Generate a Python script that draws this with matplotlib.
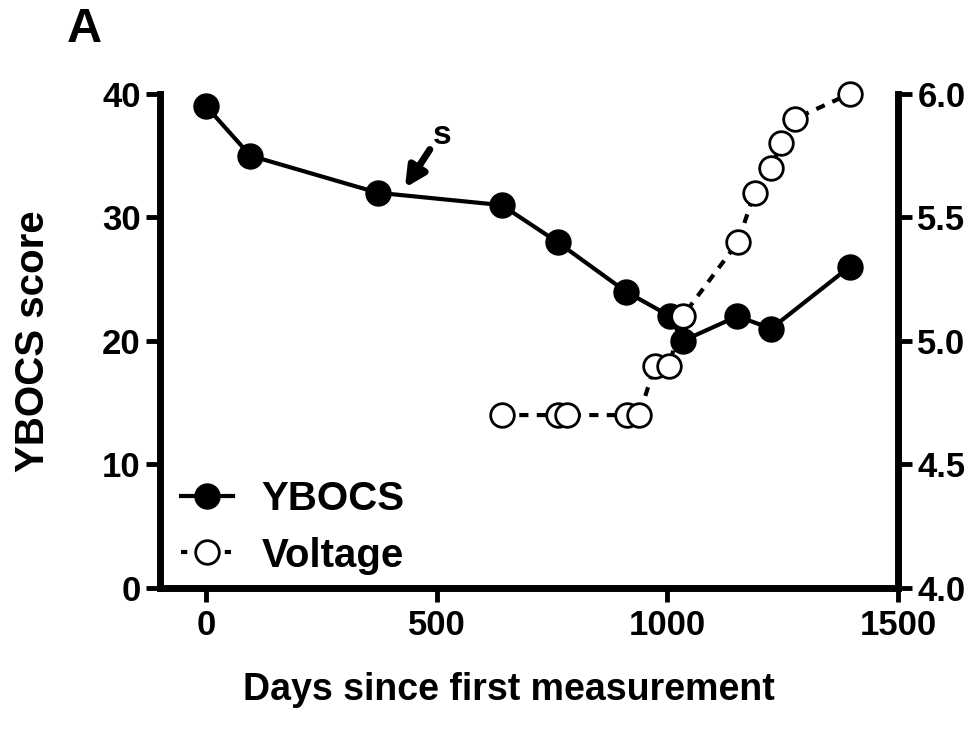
import matplotlib
matplotlib.use('Agg')
import matplotlib.pyplot as plt
from matplotlib.lines import Line2D

plt.rcParams['font.family'] = ['Liberation Sans', 'DejaVu Sans']
plt.rcParams['font.weight'] = 'bold'
plt.rcParams['axes.labelweight'] = 'bold'

# YBOCS score over time
ybocs_days = [0, 96, 372, 641, 762, 910, 1006, 1033, 1152, 1225, 1395]
ybocs_score = [39, 35, 32, 31, 28, 24, 22, 20, 22, 21, 26]

# stimulation voltage over time
volt_days = [641, 762, 782, 912, 939, 973, 1004, 1033, 1153, 1189, 1225, 1246, 1277, 1395]
volt_value = [4.7, 4.7, 4.7, 4.7, 4.7, 4.9, 4.9, 5.1, 5.4, 5.6, 5.7, 5.8, 5.9, 6.0]

x_ticks = [0, 500, 1000, 1500]
y_ticks = [0, 10, 20, 30, 40]
v_ticks = [4.0, 4.5, 5.0, 5.5, 6.0]

# arrow marking the "s" event
arrow_tail = (485, 35.5)
arrow_head = (431, 32.4)
arrow_text = (511, 36.6)

SPINE_W = 5
TICK_FS = 25

fig = plt.figure(figsize=(9.75, 7.38), dpi=100)
ax = fig.add_axes([0.1641, 0.2033, 0.7569, 0.6694])
ax2 = ax.twinx()

ax.plot(ybocs_days, ybocs_score, color='black', lw=3, marker='o', ms=18,
        mfc='black', mec='black', clip_on=False)
ax2.plot(volt_days, volt_value, color='black', lw=3, ls=(0, (2.2, 2.0)),
         marker='o', ms=17, mfc='white', mec='black', mew=2, clip_on=False)

ax.set_xlim(-100, 1500)
ax.set_ylim(0, 40)
ax2.set_ylim(4.0, 6.0)
ax.set_xticks(x_ticks)
ax.set_yticks(y_ticks)
ax2.set_yticks(v_ticks)
ax2.set_yticklabels(['%.1f' % v for v in v_ticks])

for a in (ax, ax2):
    a.spines['top'].set_visible(False)
    for s in a.spines.values():
        s.set_linewidth(SPINE_W)
        s.set_capstyle('projecting')
    a.tick_params(width=3.5, length=10, labelsize=TICK_FS, pad=4)
ax.spines['right'].set_visible(False)
ax2.spines['left'].set_visible(False)
ax2.spines['bottom'].set_visible(False)
ax.tick_params(axis='x', pad=5)

ax.set_xlabel('Days since first measurement', fontsize=27, labelpad=24)
ax.xaxis.set_label_coords(0.473, -0.17)
ax.set_ylabel('YBOCS score', fontsize=29, labelpad=36)

ax2.annotate('', xy=arrow_head, xytext=arrow_tail, xycoords=ax.transData,
             arrowprops=dict(arrowstyle='-|>', lw=5, color='black',
                             mutation_scale=30, shrinkA=0, shrinkB=0))
ax2.text(arrow_text[0], arrow_text[1], 's', transform=ax.transData,
         fontsize=24, ha='center', va='center')

handles = [
    Line2D([], [], color='black', lw=3, marker='o', ms=18, mfc='black'),
    Line2D([], [], color='black', lw=3, ls=(0, (1.5, 2.0)), marker='o', ms=17,
           mfc='white', mew=2),
]
ax2.legend(handles, ['YBOCS', 'Voltage'], loc='lower left',
           bbox_to_anchor=(-0.01, -0.03), frameon=False, fontsize=29,
           handlelength=1.3, handletextpad=0.7, labelspacing=0.45,
           borderaxespad=0.3)

fig.text(0.086, 0.96, 'A', fontsize=35, ha='center', va='center')

fig.savefig('out.png', dpi=100)
